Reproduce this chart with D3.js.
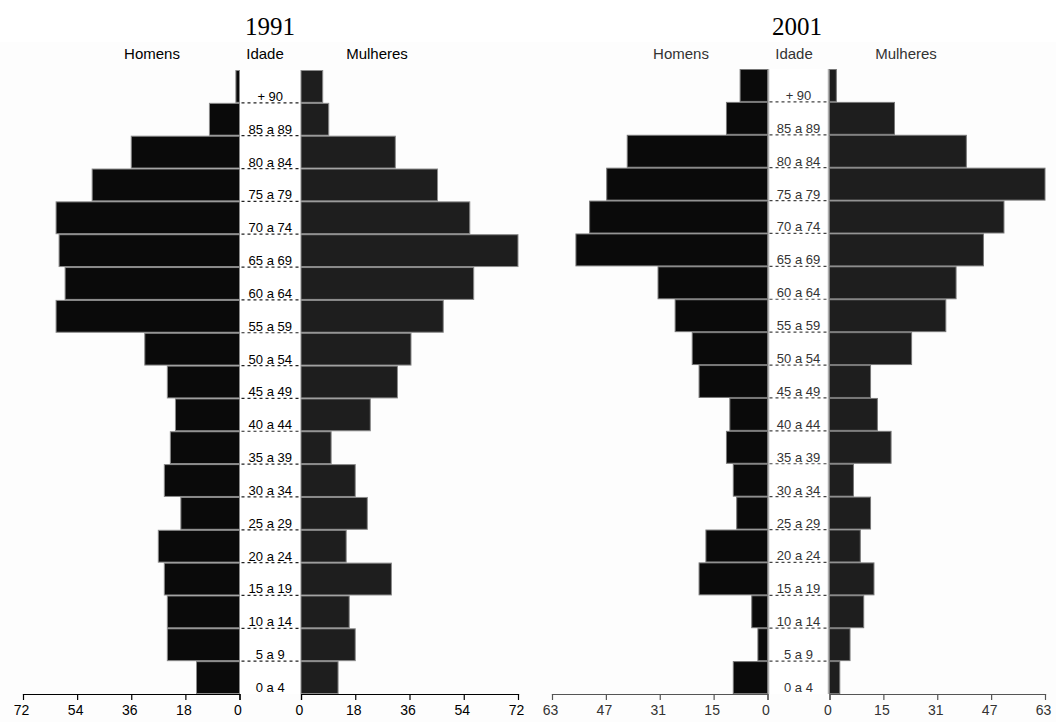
<!DOCTYPE html>
<html>
<head>
<meta charset="utf-8">
<script src="https://cdn.jsdelivr.net/npm/d3@7"></script>
<style>
  html, body { margin: 0; padding: 0; background: #ffffff; }
  svg { display: block; }
  text { font-family: "Liberation Sans", Arial, sans-serif; }
</style>
</head>
<body>
<svg id="chart" width="1056" height="722"></svg>
<script>
// ---------------- DATA ----------------
const ageGroups = ["+ 90","85 a 89","80 a 84","75 a 79","70 a 74","65 a 69","60 a 64","55 a 59",
  "50 a 54","45 a 49","40 a 44","35 a 39","30 a 34","25 a 29","20 a 24","15 a 19","10 a 14","5 a 9","0 a 4"];

const men1991   = [1.2, 10, 36, 49, 61, 60, 58, 61, 31.5, 24, 21.3, 23, 25, 19.5, 27, 25, 24, 24, 14.3];
const women1991 = [7.2, 9.2, 31.3, 45.3, 56, 72, 57.3, 47.2, 36.5, 32, 23, 10, 18, 22, 15, 30, 16, 18, 12.3];

const men2001   = [8, 12, 41, 47, 52, 56, 32, 27, 22, 20, 11, 12, 10, 9, 18, 20, 4.6, 2.8, 10];
const women2001 = [2, 19, 40, 63, 51, 45, 37, 34, 24, 12, 14, 18, 7, 12, 9, 13, 10, 6, 3];

const ticks1991 = [0, 18, 36, 54, 72];
const tickLabels1991 = ["0", "18", "36", "54", "72"];
const ticks2001 = [0, 15.75, 31.5, 47.25, 63];
const tickLabels2001 = ["0", "15", "31", "47", "63"];

const titles = ["1991", "2001"];
const headerLabels = ["Homens", "Idade", "Mulheres"];

// ---------------- DRAW ----------------
const svg = d3.select("#chart");

function drawPyramid(cfg) {
  const g = svg.append("g");
  // very light plot background
  g.append("rect").attr("x", cfg.bgX).attr("y", 42).attr("width", cfg.bgW).attr("height", 680)
    .attr("fill", "#fdfdfd");
  // white centre band
  g.append("rect").attr("x", cfg.mZero).attr("y", cfg.top).attr("width", cfg.fZero - cfg.mZero)
    .attr("height", cfg.bottom - cfg.top).attr("fill", "#ffffff");

  const xM = d3.scaleLinear().domain([0, cfg.max]).range([cfg.mZero, cfg.mEnd]);
  const xF = d3.scaleLinear().domain([0, cfg.max]).range([cfg.fZero, cfg.fEnd]);
  const y = d3.scaleBand().domain(ageGroups).range([cfg.top, cfg.bottom]).paddingInner(0);

  // title
  g.append("text").attr("x", cfg.titleX).attr("y", 35).attr("text-anchor", "middle")
    .style("font-family", "'Liberation Serif', 'Times New Roman', serif").style("font-size", "25px")
    .attr("fill", "#000").text(cfg.title);
  // headers
  headerLabels.forEach((t, i) => {
    g.append("text").attr("x", cfg.headX[i]).attr("y", 59).attr("text-anchor", "middle")
      .style("font-size", "15px").attr("fill", cfg.textColor).text(t);
  });

  // centre band edge lines (2001 chart style)
  if (cfg.bandLines) {
    [cfg.mZero + 1, cfg.fZero - 1].forEach(x => {
      g.append("line").attr("x1", x).attr("x2", x).attr("y1", cfg.top).attr("y2", cfg.bottom)
        .attr("stroke", "#b0b0b0").attr("stroke-width", 1.5);
    });
  }

  // male bars
  g.selectAll(".m").data(cfg.men).join("rect")
    .attr("x", d => xM(d))
    .attr("y", (d, i) => y(ageGroups[i]) + 0.5)
    .attr("width", d => xM(0) - xM(d))
    .attr("height", y.bandwidth() - 1)
    .attr("fill", "#0a0a0a").attr("stroke", cfg.barStroke).attr("stroke-width", 1);
  // female bars
  g.selectAll(".f").data(cfg.women).join("rect")
    .attr("x", xF(0))
    .attr("y", (d, i) => y(ageGroups[i]) + 0.5)
    .attr("width", d => xF(d) - xF(0))
    .attr("height", y.bandwidth() - 1)
    .attr("fill", "#1e1e1e").attr("stroke", cfg.barStroke).attr("stroke-width", 1);

  // dashed separators + age labels
  ageGroups.forEach((a, i) => {
    const yb = y(a) + y.bandwidth();
    if (i < ageGroups.length - 1) {
      g.append("line").attr("x1", cfg.mZero + 2).attr("x2", cfg.fZero - 1)
        .attr("y1", yb).attr("y2", yb)
        .attr("stroke", cfg.dashColor).attr("stroke-width", 1.2).attr("stroke-dasharray", "3,3");
    }
    g.append("text").attr("x", (cfg.mZero + cfg.fZero) / 2).attr("y", yb - 2)
      .attr("text-anchor", "middle").style("font-size", "13px").attr("fill", cfg.textColor).text(a);
  });

  // axes
  const axM = d3.axisBottom(xM).tickValues(cfg.ticks).tickSize(6)
    .tickFormat((d, i) => cfg.tickLabels[i]);
  const axF = d3.axisBottom(xF).tickValues(cfg.ticks).tickSize(6)
    .tickFormat((d, i) => cfg.tickLabels[i]);
  [axM, axF].forEach(ax => {
    const a = g.append("g").attr("transform", `translate(0,${cfg.bottom})`).call(ax);
    a.select(".domain").attr("stroke", cfg.axisColor).attr("stroke-width", 1.2)
      .attr("d", function() { return d3.select(this).attr("d").replace(/V6|V-6/g, "V0"); });
    a.selectAll(".tick line").attr("stroke", cfg.axisColor).attr("stroke-width", 1.2);
    a.selectAll(".tick text").attr("y", 11).attr("dx", "-2")
      .style("font-family", "'Liberation Sans', Arial, sans-serif").style("font-size", "14px")
      .attr("fill", cfg.textColor);
  });
}

drawPyramid({
  title: titles[0], titleX: 270, headX: [152, 265, 377],
  bgX: 0, bgW: 530,
  men: men1991, women: women1991, max: 72,
  mZero: 239.5, mEnd: 23, fZero: 301, fEnd: 518,
  top: 70, bottom: 694,
  ticks: ticks1991, tickLabels: tickLabels1991,
  textColor: "#000", axisColor: "#000", dashColor: "#222", barStroke: "#8a8a8a", bandLines: false
});

drawPyramid({
  title: titles[1], titleX: 797, headX: [681, 794, 906],
  bgX: 530, bgW: 526,
  men: men2001, women: women2001, max: 63,
  mZero: 767.5, mEnd: 552, fZero: 829.5, fEnd: 1045,
  top: 69, bottom: 694,
  ticks: ticks2001, tickLabels: tickLabels2001,
  textColor: "#333", axisColor: "#555", dashColor: "#444", barStroke: "#777", bandLines: true
});
</script>
</body>
</html>
